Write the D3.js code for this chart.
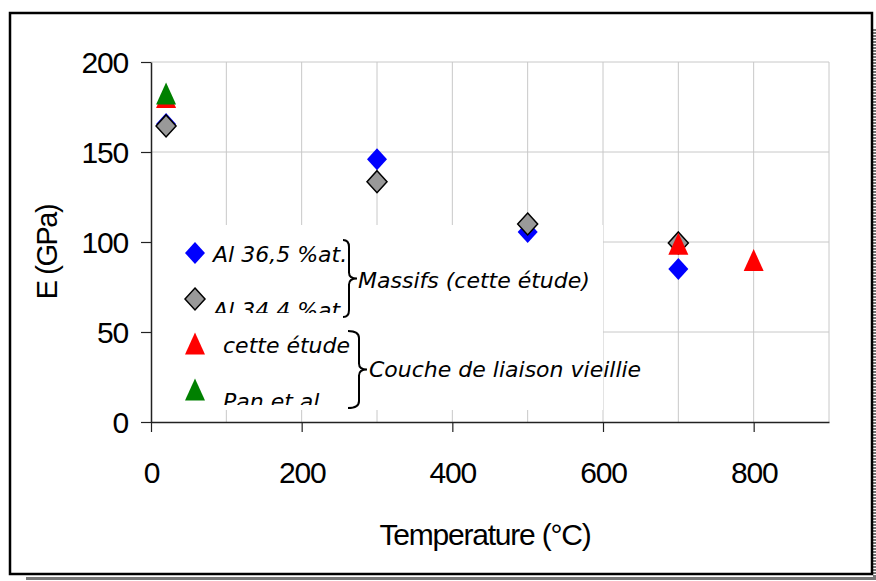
<!DOCTYPE html>
<html>
<head>
<meta charset="utf-8">
<script src="https://cdn.jsdelivr.net/npm/d3@7"></script>
<style>
  body { margin: 0; background: #fff; }
  svg { display: block; }
  .tick text { font-family: "Liberation Sans", Arial, sans-serif; font-size: 30px; letter-spacing: -1.2px; }
  .leg { font-family: "DejaVu Sans", Verdana, sans-serif; font-style: italic; font-size: 22px; }
</style>
</head>
<body>
<svg id="chart"></svg>
<script>
const width = 876;
const height = 581;

// series (temperature °C, E GPa)
const al365 = [[20, 165.5], [300, 146], [500, 105.5], [700, 85]];
const al344 = [[20, 164.5], [300, 133.5], [500, 110], [700, 99.5]];
const cetteEtude = [[20, 180.5], [700, 99], [800, 90]];
const panEtAl = [[20, 182.5]];

const xTicks = [0, 200, 400, 600, 800];
const yTicks = [0, 50, 100, 150, 200];
const xGrid = [100, 200, 300, 400, 500, 600, 700, 800, 900];
const yGrid = [50, 100, 150, 200];

const legendNames = ["Al 36,5 %at.", "Al 34,4 %at.", "cette étude", "Pan et al"];
const groupNames = ["Massifs (cette étude)", "Couche de liaison vieillie"];

var svg = d3.select("#chart").attr("width", width).attr("height", height);

var x = d3.scaleLinear().domain([0, 900]).range([151, 829]);
var y = d3.scaleLinear().domain([0, 200]).range([422, 62]);

// frame with shadow
svg.append("rect").attr("x", 26).attr("y", 577).attr("width", 850).attr("height", 3).attr("fill", "#777");
svg.append("line").attr("x1", 874.5).attr("x2", 874.5).attr("y1", 29).attr("y2", 580)
  .attr("stroke", "#777").attr("stroke-width", 3).attr("stroke-dasharray", "2,1");
svg.append("rect").attr("x", 10).attr("y", 13).attr("width", 862).attr("height", 561)
  .attr("fill", "#fff").attr("stroke", "#000").attr("stroke-width", 2.5);

// grid
svg.append("g").selectAll("line").data(xGrid).enter().append("line")
  .attr("x1", d => x(d)).attr("x2", d => x(d)).attr("y1", y(200)).attr("y2", y(0))
  .attr("stroke", "#c8c8c8").attr("stroke-width", 1);
svg.append("g").selectAll("line").data(yGrid).enter().append("line")
  .attr("x1", x(0)).attr("x2", x(900)).attr("y1", d => y(d)).attr("y2", d => y(d))
  .attr("stroke", "#c8c8c8").attr("stroke-width", 1);

// legend background
svg.append("rect").attr("x", 152).attr("y", 225).attr("width", 451).attr("height", 185).attr("fill", "#fff");

// axes
var xAxis = svg.append("g").attr("transform", `translate(0,${y(0)})`)
  .call(d3.axisBottom(x).tickValues(xTicks).tickSize(10).tickSizeOuter(0).tickPadding(30));
var yAxis = svg.append("g").attr("transform", `translate(${x(0)},0)`)
  .call(d3.axisLeft(y).tickValues(yTicks).tickSize(10).tickSizeOuter(0).tickPadding(13));
[xAxis, yAxis].forEach(a => {
  a.select(".domain").attr("stroke", "#222").attr("stroke-width", 1.5);
  a.selectAll(".tick line").attr("stroke", "#222").attr("stroke-width", 1.2);
  a.selectAll(".tick text").attr("fill", "#000");
});
yAxis.selectAll(".tick text").attr("dy", "0.36em");

svg.append("text").attr("x", 485).attr("y", 545).attr("text-anchor", "middle")
  .style("font-family", "Liberation Sans, Arial, sans-serif").style("font-size", "30px")
  .style("letter-spacing", "-1.2px").text("Temperature (°C)");
svg.append("text").attr("transform", "translate(57,252) rotate(-90)").attr("text-anchor", "middle")
  .style("font-family", "Liberation Sans, Arial, sans-serif").style("font-size", "29px")
  .style("letter-spacing", "-1.5px").text("E (GPa)");

// marker shapes
function diamond(hw, hh) {
  return `M0,${-hh}L${hw},0L0,${hh}L${-hw},0Z`;
}
function triangle(hw, hh) {
  return `M0,${-hh}L${hw},${hh}L${-hw},${hh}Z`;
}
const styles = [
  { d: diamond(10, 11), fill: "#0000ff", stroke: "none" },
  { d: diamond(10, 11), fill: "#999999", stroke: "#000" },
  { d: triangle(10, 11), fill: "#ff0000", stroke: "none" },
  { d: triangle(10, 11), fill: "#008000", stroke: "none" }
];
const series = [al365, al344, cetteEtude, panEtAl];

series.forEach((s, i) => {
  svg.append("g").selectAll("path").data(s).enter().append("path")
    .attr("transform", d => `translate(${x(d[0])},${y(d[1])})`)
    .attr("d", styles[i].d).attr("fill", styles[i].fill)
    .attr("stroke", styles[i].stroke).attr("stroke-width", 1.5);
});

// legend entries
const legY = [253, 299, 343.5, 389.5];
const textX = [213, 213, 223, 223];
const textY = [262, 318, 353, 409];
const clipBottom = [300, 313, 365, 405];
var leg = svg.append("g");
legendNames.forEach((name, i) => {
  leg.append("path").attr("transform", `translate(195,${legY[i]})`)
    .attr("d", styles[i].d).attr("fill", styles[i].fill)
    .attr("stroke", styles[i].stroke).attr("stroke-width", 1.5);
  svg.append("clipPath").attr("id", "clip" + i).append("rect")
    .attr("x", 150).attr("y", legY[i] - 30).attr("width", 300).attr("height", clipBottom[i] - legY[i] + 30);
  leg.append("text").attr("class", "leg").attr("x", textX[i]).attr("y", textY[i])
    .attr("clip-path", `url(#clip${i})`).text(name);
});

// braces
function brace(xs, xb, xp, y0, y1) {
  var ym = (y0 + y1) / 2;
  return `M${xs},${y0} Q${xb},${y0} ${xb},${y0 + 7} L${xb},${ym - 6} Q${xb},${ym} ${xp},${ym}`
    + ` Q${xb},${ym} ${xb},${ym + 6} L${xb},${y1 - 7} Q${xb},${y1} ${xs},${y1}`;
}
leg.append("path").attr("d", brace(343, 349, 357, 240, 317))
  .attr("fill", "none").attr("stroke", "#000").attr("stroke-width", 2);
leg.append("path").attr("d", brace(348, 359, 367, 331, 408))
  .attr("fill", "none").attr("stroke", "#000").attr("stroke-width", 2);
leg.append("text").attr("class", "leg").attr("x", 358).attr("y", 288).text(groupNames[0]);
leg.append("text").attr("class", "leg").attr("x", 369).attr("y", 377).text(groupNames[1]);
</script>
</body>
</html>
